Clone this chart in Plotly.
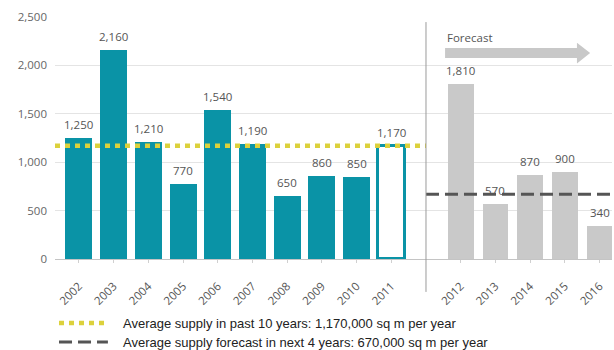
import plotly.graph_objects as go

# Annual office supply, thousand sq m
years_past = ["2002", "2003", "2004", "2005", "2006", "2007", "2008", "2009", "2010", "2011"]
supply_past = [1250, 2160, 1210, 770, 1540, 1190, 650, 860, 850, 1170]
years_forecast = ["2012", "2013", "2014", "2015", "2016"]
supply_forecast = [1810, 570, 870, 900, 340]
avg_past = 1170
avg_forecast = 670
legend_past = "Average supply in past 10 years: 1,170,000 sq m per year"
legend_forecast = "Average supply forecast in next 4 years: 670,000 sq m per year"

TEAL = "#0a93a6"
GREY_BAR = "#c9c9c9"
LABEL = "#555555"
DOT_STYLE = dict(color="#dcd13c", width=4.5, dash="5px,5px")
DASH_STYLE = dict(color="#555555", width=3, dash="13px,6px")

# Slot positions: the past years, one empty slot for the divider, then the forecast
x_past = list(range(len(years_past)))
x_div = len(years_past)
x_fc = [x_div + 1 + i for i in range(len(years_forecast))]
x_lo, x_hi = -0.69, x_fc[-1] + 0.36

fig = go.Figure()

# Past supply; the latest year is drawn as an outline
n = len(supply_past)
fig.add_trace(go.Bar(
    x=x_past, y=supply_past, width=0.78,
    marker=dict(
        color=[TEAL] * (n - 1) + ["white"],
        line=dict(color=TEAL, width=[0] * (n - 1) + [3]),
    ),
    showlegend=False, hoverinfo="skip",
))

# Forecast supply
fig.add_trace(go.Bar(
    x=x_fc, y=supply_forecast, width=0.74,
    marker=dict(color=GREY_BAR, line=dict(width=0)),
    showlegend=False, hoverinfo="skip",
))

# Average lines
fig.add_trace(go.Scatter(
    x=[x_lo, x_div], y=[avg_past, avg_past], mode="lines",
    line=DOT_STYLE, showlegend=False, hoverinfo="skip",
))
fig.add_trace(go.Scatter(
    x=[x_div, x_hi], y=[avg_forecast, avg_forecast], mode="lines",
    line=DASH_STYLE, showlegend=False, hoverinfo="skip",
))

# Value labels above bars
for xs, ys in ((x_past, supply_past), (x_fc, supply_forecast)):
    for xv, yv in zip(xs, ys):
        fig.add_annotation(
            x=xv, y=yv, text=f"{yv:,}", showarrow=False,
            yanchor="bottom", yshift=4,
            font=dict(family="Open Sans", size=11.5, color=LABEL),
        )

# Divider between actual and forecast
fig.add_shape(type="line", xref="x", yref="paper", x0=x_div, x1=x_div,
              y0=-0.136, y1=0.979, line=dict(color="#9a9a9a", width=1))

# Forecast arrow
ax0, ax1, ahb = x_fc[0] - 0.45, x_fc[-1] - 0.27, x_fc[-1] - 0.65
yb0, yb1, yh0, yh1 = 2077, 2180, 2020, 2235
ym = (yb0 + yb1) / 2
fig.add_shape(
    type="path", xref="x", yref="y",
    path=(f"M {ax0},{yb0} L {ahb},{yb0} L {ahb},{yh0} L {ax1},{ym} "
          f"L {ahb},{yh1} L {ahb},{yb1} L {ax0},{yb1} Z"),
    fillcolor="#c8c8c8", line=dict(width=0),
)
fig.add_annotation(
    x=ax0, y=2290, text="Forecast", showarrow=False, xanchor="left",
    font=dict(family="Open Sans", size=11.5, color=LABEL),
)

# Key below the chart
for row, (label, style) in enumerate(((legend_past, DOT_STYLE), (legend_forecast, DASH_STYLE))):
    ky = -0.2645 - row * 0.0785
    fig.add_shape(type="line", xref="paper", yref="paper",
                  x0=0.0072, x1=0.095, y0=ky, y1=ky, line=style)
    fig.add_annotation(
        xref="paper", yref="paper", x=0.1185, y=ky, text=label,
        showarrow=False, xanchor="left", yanchor="middle",
        font=dict(family="Liberation Sans", size=13, color="#222222"),
    )

fig.update_layout(
    width=614, height=350,
    margin=dict(l=55, r=2, t=17, b=91),
    plot_bgcolor="white", paper_bgcolor="white",
    bargap=0, showlegend=False,
    font=dict(family="Open Sans", size=11, color=LABEL),
    xaxis=dict(
        range=[x_lo, x_hi], automargin=False,
        tickvals=x_past + x_fc, ticktext=years_past + years_forecast,
        tickangle=-45, showgrid=False, zeroline=False,
        showline=True, linecolor="#c4c4c4", linewidth=1,
        ticks="outside", ticklen=3, tickcolor="#d0d0d0",
        ticklabelstandoff=12,
        tickfont=dict(family="Open Sans", size=11.5, color=LABEL),
    ),
    yaxis=dict(
        range=[0, 2500], automargin=False,
        tickvals=[0, 500, 1000, 1500, 2000, 2500],
        tickformat=",", showgrid=True, gridcolor="#e4e4e4", gridwidth=1,
        zeroline=False, showline=False, ticks="", ticklabelstandoff=7,
        tickfont=dict(family="Open Sans", size=11.5, color="#666666"),
    ),
)

fig.write_html("out.html")
